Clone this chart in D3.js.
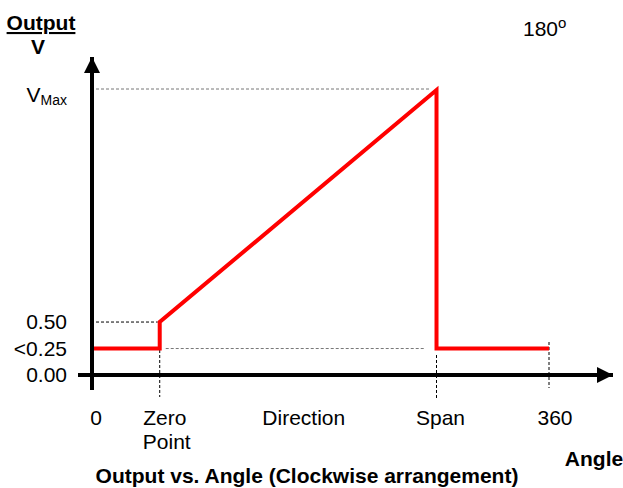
<!DOCTYPE html>
<html>
<head>
<meta charset="utf-8">
<script src="https://cdn.jsdelivr.net/npm/d3@7"></script>
<style>
  html, body { margin: 0; padding: 0; background: #fff; }
  svg { display: block; font-family: "Liberation Sans", Arial, sans-serif; }
</style>
</head>
<body>
<svg id="chart" width="623" height="488"></svg>
<script>
// Angle positions (degrees) and output levels (V) of the characteristic
const anglePoints = [0, 52, 52, 271, 271, 360];
const outputValues = [0.25, 0.25, 0.5, 2.69, 0.25, 0.25];

// Axis tick labels
const xTickAngles = [0, 52, 166, 271, 360];
const xTickLabels = [["0"], ["Zero", "Point"], ["Direction"], ["Span"], ["360"]];
const yTickValues = [0, 0.25, 0.5, 2.7];
const yTickLabels = ["0.00", "<0.25", "0.50", "VMax"];

const vMax = 2.7;
const FS = 21;

const svg = d3.select("#chart");

const x = d3.scaleLinear().domain([0, 360]).range([94, 549]);
const y = d3.scaleLinear().domain([0, vMax]).range([375, 89]);

// Arrow markers
const defs = svg.append("defs");
defs.append("marker")
  .attr("id", "arrow")
  .attr("viewBox", "0 0 10 10")
  .attr("refX", 10).attr("refY", 5)
  .attr("markerUnits", "userSpaceOnUse")
  .attr("markerWidth", 16).attr("markerHeight", 16)
  .attr("orient", "auto")
  .append("path").attr("d", "M0,0 L10,5 L0,10 Z").attr("fill", "#000");

// Reference guide lines
const guides = svg.append("g").attr("fill", "none");
// VMax level
guides.append("line")
  .attr("x1", x(0) + 2).attr("x2", x(271) - 7)
  .attr("y1", y(vMax)).attr("y2", y(vMax))
  .attr("stroke", "#777").attr("stroke-width", 1).attr("stroke-dasharray", "3,2");
// 0.50 level
guides.append("line")
  .attr("x1", x(0) + 2).attr("x2", x(52) - 2)
  .attr("y1", y(0.5)).attr("y2", y(0.5))
  .attr("stroke", "#000").attr("stroke-width", 1).attr("stroke-dasharray", "3,2");
// low level under the ramp
guides.append("line")
  .attr("x1", x(52) + 6).attr("x2", x(271) - 11)
  .attr("y1", y(0.25)).attr("y2", y(0.25))
  .attr("stroke", "#777").attr("stroke-width", 1).attr("stroke-dasharray", "3,2");
// vertical markers
[[52, 350, 397], [271, 355, 398], [360, 342, 388]].forEach(([a, y1, y2]) => {
  guides.append("line")
    .attr("x1", x(a)).attr("x2", x(a))
    .attr("y1", y1).attr("y2", y2)
    .attr("stroke", "#000").attr("stroke-width", 1).attr("stroke-dasharray", "3,2");
});

// Axes
svg.append("line")
  .attr("x1", 78).attr("x2", 613)
  .attr("y1", y(0)).attr("y2", y(0))
  .attr("stroke", "#000").attr("stroke-width", 4)
  .attr("marker-end", "url(#arrow)");
svg.append("line")
  .attr("x1", 92).attr("x2", 92)
  .attr("y1", 390).attr("y2", 57)
  .attr("stroke", "#000").attr("stroke-width", 4)
  .attr("marker-end", "url(#arrow)");

// Output characteristic
const line = d3.line()
  .x((d, i) => x(anglePoints[i]))
  .y(d => y(d))
  .curve(d3.curveLinear);
svg.append("path")
  .datum(outputValues)
  .attr("d", line)
  .attr("fill", "none")
  .attr("stroke", "#ff0000")
  .attr("stroke-width", 4)
  .attr("stroke-linejoin", "miter");

// Y tick labels
const yLab = svg.append("g").attr("font-size", FS).attr("fill", "#000").attr("text-anchor", "end");
yTickValues.forEach((v, i) => {
  const t = yLab.append("text")
    .attr("x", 67)
    .attr("y", (v === vMax ? 102 : y(v) + 7));
  if (yTickLabels[i] === "VMax") {
    t.append("tspan").text("V");
    t.append("tspan").attr("font-size", 14).attr("dy", 3).text("Max");
  } else {
    t.text(yTickLabels[i]);
  }
});

// X tick labels
const xLab = svg.append("g").attr("font-size", FS).attr("fill", "#000");
const xOffsets = [2, 5, 0, 4, 6];
xTickAngles.forEach((a, i) => {
  const lines = xTickLabels[i];
  const t = xLab.append("text")
    .attr("y", 425)
    .attr("text-anchor", "middle");
  lines.forEach((s, j) => {
    t.append("tspan")
      .attr("x", x(a) + xOffsets[i] + (j === 1 ? 2 : 0))
      .attr("dy", j === 0 ? 0 : 24)
      .text(s);
  });
});

// Axis titles
svg.append("text")
  .attr("x", 41).attr("y", 30)
  .attr("text-anchor", "middle")
  .attr("font-size", FS).attr("font-weight", "bold")
  .attr("text-decoration", "underline")
  .text("Output");
svg.append("text")
  .attr("x", 38).attr("y", 54)
  .attr("text-anchor", "middle")
  .attr("font-size", FS).attr("font-weight", "bold")
  .text("V");
svg.append("text")
  .attr("x", 594).attr("y", 466)
  .attr("text-anchor", "middle")
  .attr("font-size", FS).attr("font-weight", "bold")
  .text("Angle");

// 180° annotation
const deg = svg.append("text")
  .attr("x", 523).attr("y", 36)
  .attr("font-size", FS);
deg.append("tspan").text("180");
deg.append("tspan").attr("font-size", 15).attr("dy", -8).text("o");

// Caption
svg.append("text")
  .attr("x", 307).attr("y", 483)
  .attr("text-anchor", "middle")
  .attr("font-size", FS).attr("font-weight", "bold")
  .text("Output vs. Angle (Clockwise arrangement)");
</script>
</body>
</html>
